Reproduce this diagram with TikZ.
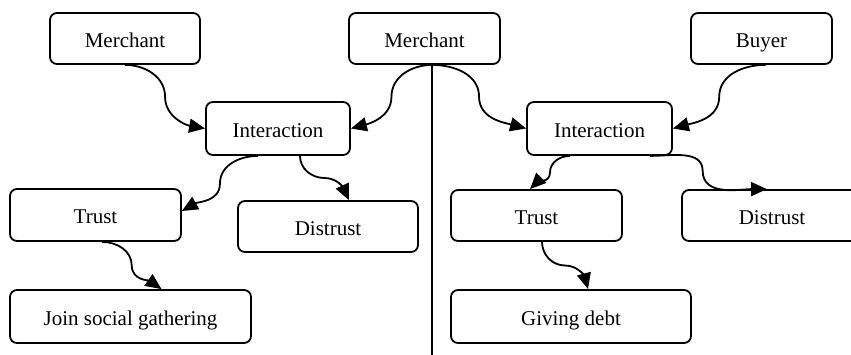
\documentclass[tikz,border=0pt]{standalone}
\usepackage{fontspec}
\setmainfont{Liberation Serif}
\usetikzlibrary{arrows.meta,calc}
\begin{document}
\begin{tikzpicture}[x=1pt,y=1pt,
  box/.style={draw, line width=1.8pt, rounded corners=7pt, inner sep=0pt,
    text height=20pt, text depth=3pt, font=\fontsize{21}{25}\selectfont},
  link/.style={line width=1.8pt, -{Triangle[length=16pt,width=14pt]}},
  divider/.style={line width=1.5pt}]
\clip (0,0) rectangle (851,-354);

% left scenario
\node[box, minimum width=150pt, minimum height=51pt] (m1) at (125,-38.5) {Merchant};
\node[box, minimum width=144pt, minimum height=53pt] (int1) at (278,-128.5) {Interaction};
\node[box, minimum width=171pt, minimum height=52pt] (trust1) at (95.5,-215) {Trust};
\node[box, minimum width=180pt, minimum height=51pt] (dist1) at (328,-226.5) {Distrust};
\node[box, minimum width=241pt, minimum height=53pt] (join) at (130.5,-316.5) {Join social gathering};

% shared merchant
\node[box, minimum width=151pt, minimum height=51pt] (m2) at (424.5,-38.5) {Merchant};

% right scenario
\node[box, minimum width=141pt, minimum height=51pt] (buyer) at (761.5,-38.5) {Buyer};
\node[box, minimum width=145pt, minimum height=53pt] (int2) at (599.5,-128.5) {Interaction};
\node[box, minimum width=171pt, minimum height=51pt] (trust2) at (536.5,-215.5) {Trust};
\node[box, minimum width=180pt, minimum height=51pt] (dist2) at (772,-215.5) {Distrust};
\node[box, minimum width=240pt, minimum height=53pt] (giving) at (571,-316.5) {Giving debt};

% connector end points on the box edges
\coordinate (split) at ([xshift=7.5pt]m2.south);
\coordinate (vbottom) at (split |- 0,-360);
\coordinate (i1a) at ([xshift=-20pt]int1.south);
\coordinate (i1b) at ([xshift=22pt]int1.south);
\coordinate (t1a) at ([yshift=4pt]trust1.east);
\coordinate (d1a) at ([xshift=21pt]dist1.north);
\coordinate (t1b) at ([xshift=6.5pt]trust1.south);
\coordinate (j1) at ([xshift=31pt]join.north);
\coordinate (byr) at ([xshift=4pt]buyer.south);
\coordinate (i2a) at ([xshift=-29.5pt]int2.south);
\coordinate (t2a) at ([xshift=-6.5pt]trust2.north);
\coordinate (i2b) at ([xshift=50.5pt]int2.south);
\coordinate (d2a) at ([xshift=-5pt]dist2.north);
\coordinate (t2b) at ([xshift=5.5pt]trust2.south);
\coordinate (g1) at ([xshift=17pt]giving.north);

% divider
\draw[divider] (split) -- (vbottom);

% left connectors
\draw[link] (m1.south) to[out=0,in=90] ($(m1.south)!.5!(int1.west)$)
  to[out=-90,in=170] (int1.west);
\draw[link] (split) to[out=180,in=90] ($(split)!.5!(int1.east)$)
  to[out=-90,in=15] (int1.east);
\draw[link] (i1a) to[out=180,in=90] ($(i1a)!.5!(t1a)$)
  to[out=-90,in=30] (t1a);
\draw[link] (i1b) to[out=-90,in=180] ($(i1b)!.5!(d1a)$)
  to[out=0,in=115] (d1a);
\draw[link] (t1b) to[out=0,in=90] ($(t1b)!.5!(j1)$)
  to[out=-90,in=145] (j1);

% right connectors
\draw[link] (split) to[out=0,in=90] ($(split)!.5!(int2.west)$)
  to[out=-90,in=165] (int2.west);
\draw[link] (byr) to[out=180,in=90] ($(byr)!.5!(int2.east)$)
  to[out=-90,in=15] (int2.east);
\draw[link] (i2a) to[out=180,in=90] ($(i2a)!.5!(t2a)$)
  to[out=-90,in=45] (t2a);
\draw[link] (i2b) to[out=0,in=90] ($(i2b)!.45!(d2a)$)
  to[out=-90,in=180] (d2a);
\draw[link] (t2b) to[out=-90,in=180] ($(t2b)!.5!(g1)$)
  to[out=0,in=105] (g1);
\end{tikzpicture}
\end{document}
